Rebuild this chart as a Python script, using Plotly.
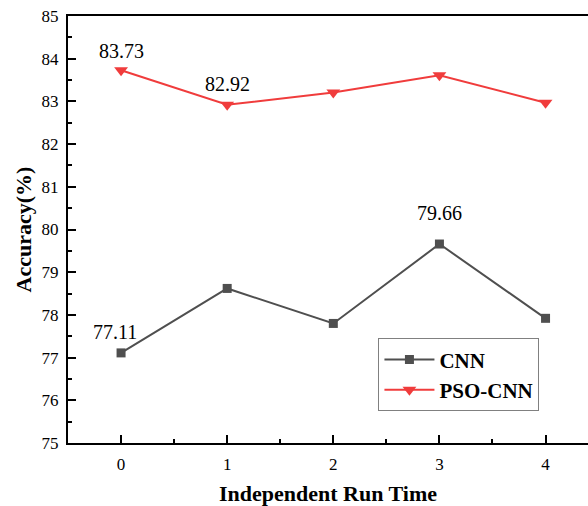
import plotly.graph_objects as go

run_time = [0, 1, 2, 3, 4]
cnn_acc = [77.11, 78.62, 77.80, 79.66, 77.92]
pso_cnn_acc = [83.73, 82.92, 83.21, 83.61, 82.97]

# labelled points: (index, xshift, yshift)
labels_cnn = [(0, -6, 21), (3, 0, 31)]
labels_pso = [(0, 0, 19), (1, 0, 21)]

FONT = "Liberation Serif"
CNN_COLOR = "#4f4f4f"
PSO_COLOR = "#f03c3c"

fig = go.Figure()
fig.add_trace(go.Scatter(
    x=run_time, y=cnn_acc, name="CNN", mode="lines+markers",
    line=dict(color=CNN_COLOR, width=2),
    marker=dict(symbol="square", size=9, color=CNN_COLOR),
))
fig.add_trace(go.Scatter(
    x=run_time, y=pso_cnn_acc, name="PSO-CNN", mode="lines+markers",
    line=dict(color=PSO_COLOR, width=2),
    marker=dict(symbol="triangle-down", size=12, color=PSO_COLOR),
))

annotations = []
for i, xs, ys in labels_cnn:
    annotations.append(dict(x=run_time[i], y=cnn_acc[i], xref="x", yref="y",
                            text=f"{cnn_acc[i]:.2f}", showarrow=False,
                            xshift=xs, yshift=ys,
                            font=dict(family=FONT, size=20, color="black")))
for i, xs, ys in labels_pso:
    annotations.append(dict(x=run_time[i], y=pso_cnn_acc[i], xref="x", yref="y",
                            text=f"{pso_cnn_acc[i]:.2f}", showarrow=False,
                            xshift=xs, yshift=ys,
                            font=dict(family=FONT, size=20, color="black")))

fig.update_layout(
    width=588, height=506,
    margin=dict(l=68, r=0, t=16, b=63),
    plot_bgcolor="white", paper_bgcolor="white",
    font=dict(family=FONT, size=17, color="black"),
    showlegend=True,
    legend=dict(x=0.597, y=0.245, xanchor="left", yanchor="top",
                bordercolor="#808080", borderwidth=1, bgcolor="white",
                font=dict(family=FONT, size=21, color="black", weight="bold"),
                tracegroupgap=0, itemwidth=50),
    annotations=annotations,
)
fig.update_xaxes(
    range=[-0.5, 4.4], tickvals=run_time, ticktext=[str(v) for v in run_time],
    showgrid=False, zeroline=False,
    showline=True, linecolor="black", linewidth=2, mirror=True,
    ticks="inside", ticklen=8, tickwidth=2, tickcolor="black",
    minor=dict(dtick=0.5, tick0=0, ticks="inside", ticklen=4, tickwidth=2, tickcolor="black"),
    tickfont=dict(family=FONT, size=17),
    ticklabelstandoff=5,
    title=dict(text="Independent Run Time", standoff=12,
               font=dict(family=FONT, size=22, weight="bold")),
)
fig.update_yaxes(
    range=[75, 85], dtick=1, tick0=75,
    showgrid=False, zeroline=False,
    showline=True, linecolor="black", linewidth=2, mirror=False,
    ticks="inside", ticklen=8, tickwidth=2, tickcolor="black",
    minor=dict(dtick=0.5, tick0=75, ticks="inside", ticklen=4, tickwidth=2, tickcolor="black"),
    tickfont=dict(family=FONT, size=17),
    ticklabelstandoff=4,
    title=dict(text="Accuracy(%)", standoff=4,
               font=dict(family=FONT, size=22, weight="bold")),
)

fig.write_html("out.html")
